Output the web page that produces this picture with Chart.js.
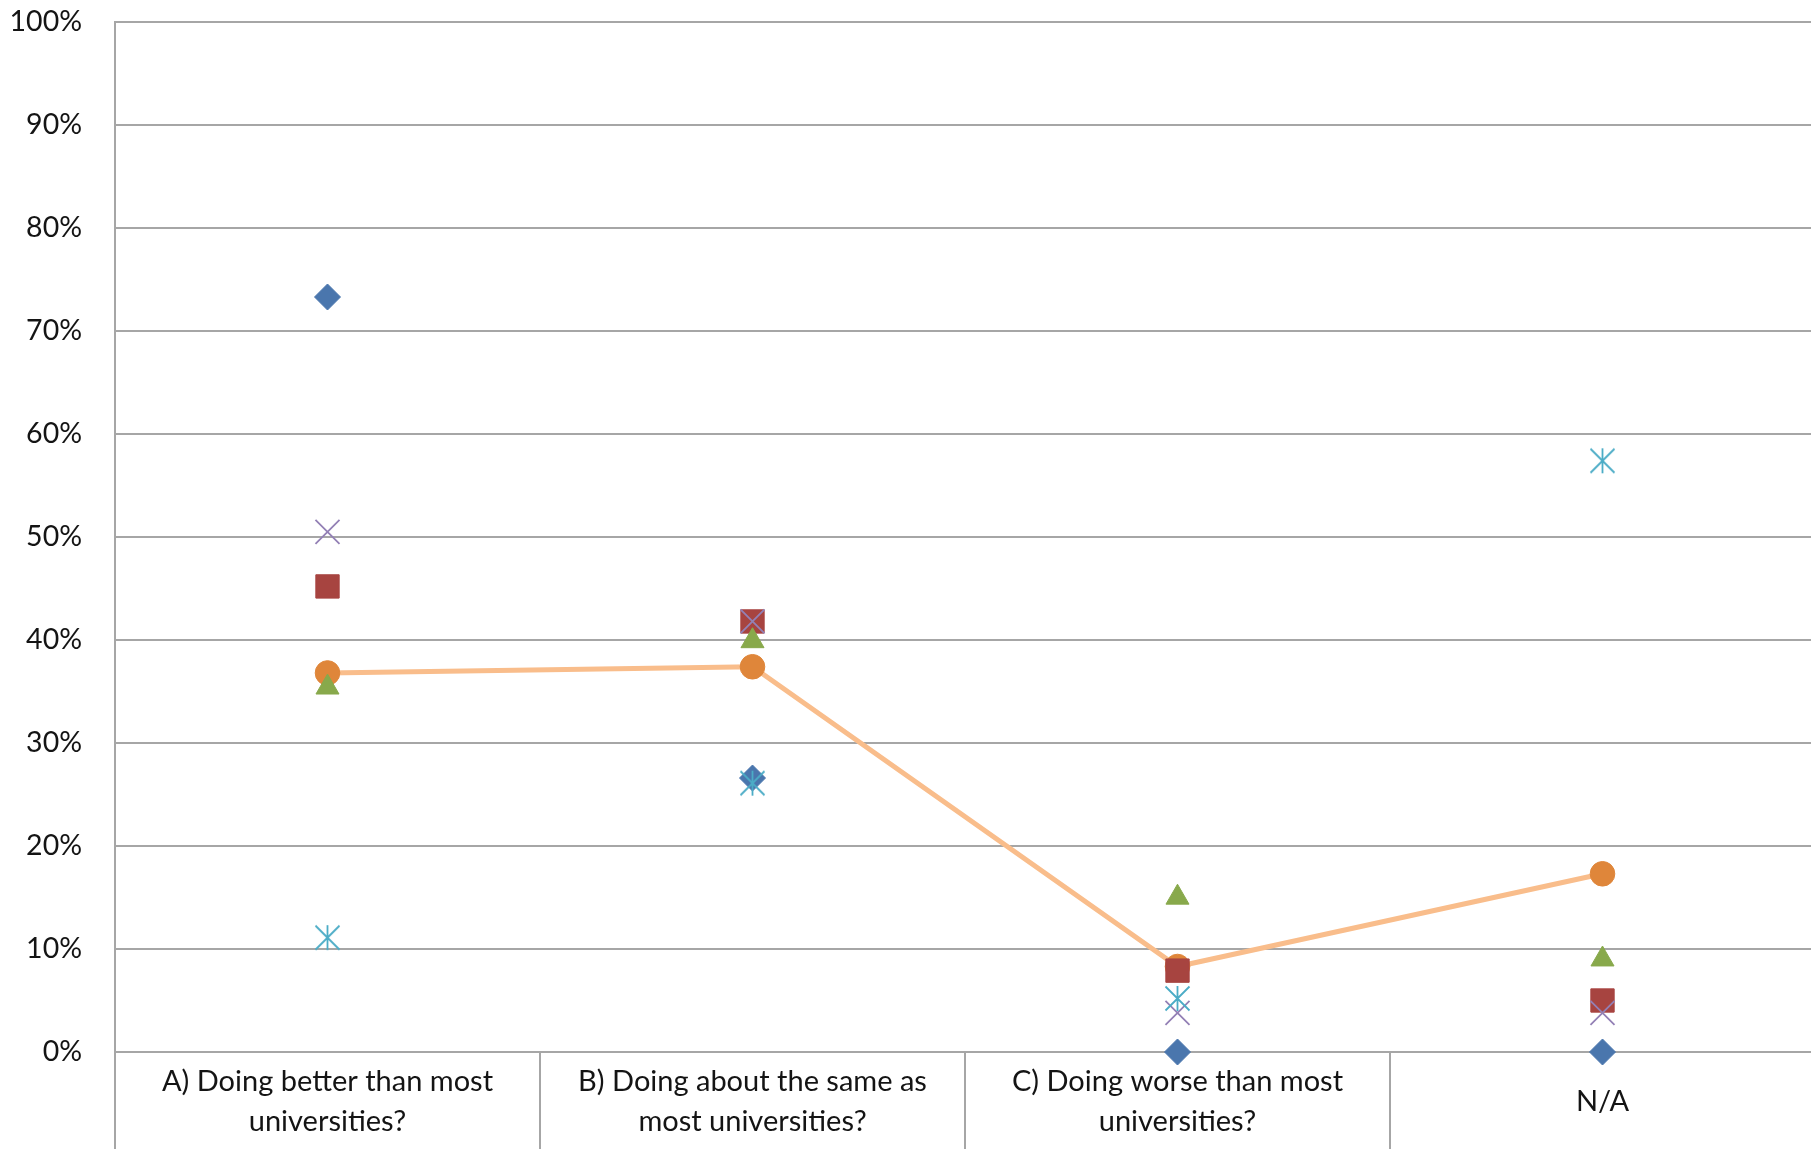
<!DOCTYPE html>
<html>
<head>
    <meta charset="UTF-8">
    <title>University comparison</title>
    <script src="https://cdn.jsdelivr.net/npm/chart.js"></script>
    <style>
        html, body {
            margin: 0;
            padding: 0;
            background: #fff;
            overflow: hidden;
        }
        #wrap {
            width: 1815px;
            height: 1149px;
        }
    </style>
</head>
<body>
    <div id="wrap"><canvas id="chart"></canvas></div>
    <script>
        // categories (x axis)
        const categories = [
            ["A) Doing better than most", "universities?"],
            ["B) Doing about the same as", "most universities?"],
            ["C) Doing worse than most", "universities?"],
            "N/A"
        ];

        // y axis ticks, in percent
        const yTicks = [0, 10, 20, 30, 40, 50, 60, 70, 80, 90, 100];

        // series values, in percent
        const blueDiamond = [73.3, 26.6, 0, 0];
        const redSquare = [45.2, 41.8, 7.9, 5.0];
        const greenTriangle = [35.4, 39.9, 15.0, 9.0];
        const purpleCross = [50.5, 41.8, 3.8, 3.8];
        const cyanStar = [11.1, 26.1, 5.2, 57.4];
        const orangeCircle = [36.8, 37.4, 8.3, 17.3];

        const GRID = '#a6a6a6';
        const TEXT = '#141414';
        const FONT = 'Lato, "Open Sans", sans-serif';

        // excel-like asterisk marker (X plus a vertical bar)
        function starMarker(color) {
            const c = document.createElement('canvas');
            c.width = 27;
            c.height = 27;
            const g = c.getContext('2d');
            g.strokeStyle = color;
            g.lineWidth = 1.8;
            g.beginPath();
            g.moveTo(13.5, 1); g.lineTo(13.5, 26);
            g.moveTo(1.5, 1.5); g.lineTo(25.5, 25.5);
            g.moveTo(25.5, 1.5); g.lineTo(1.5, 25.5);
            g.stroke();
            return c;
        }

        function markers(label, data, style, color, radius, order, extra) {
            return Object.assign({
                label,
                data,
                showLine: false,
                clip: false,
                pointStyle: style,
                pointRadius: radius,
                pointHoverRadius: radius,
                pointBackgroundColor: color,
                pointBorderColor: color,
                pointBorderWidth: 1,
                backgroundColor: color,
                borderColor: color,
                order
            }, extra || {});
        }

        const datasets = [
            markers('Series 1', blueDiamond, 'rectRot', '#4a76ad', 13, 5),
            markers('Series 2', redSquare, 'rect', '#a74440', 16.5, 4),
            markers('Series 3', greenTriangle, 'triangle', '#88a94b', 13.3, 3),
            markers('Series 4', purpleCross, 'crossRot', '#9380b5', 17, 2, { pointBorderWidth: 1.8 }),
            markers('Series 5', cyanStar, starMarker('#4bacc6'), '#4bacc6', 13, 1),
            {
                label: 'Series 6',
                data: orangeCircle,
                showLine: true,
                clip: false,
                borderColor: '#f9bd8b',
                borderWidth: 5,
                tension: 0,
                pointStyle: 'circle',
                pointRadius: 12.3,
                pointHoverRadius: 12.3,
                pointBackgroundColor: '#df863a',
                pointBorderColor: '#df863a',
                pointBorderWidth: 1,
                order: 6
            }
        ];

        new Chart(document.getElementById('chart'), {
            type: 'line',
            data: { labels: categories, datasets },
            options: {
                responsive: true,
                maintainAspectRatio: false,
                animation: false,
                layout: {
                    autoPadding: false,
                    padding: { top: 22, right: 0, bottom: 0, left: 0 }
                },
                plugins: {
                    legend: { display: false },
                    tooltip: { enabled: false }
                },
                scales: {
                    x: {
                        type: 'category',
                        offset: true,
                        grid: {
                            offset: true,
                            drawOnChartArea: false,
                            drawTicks: true,
                            tickLength: 100,
                            color: GRID,
                            lineWidth: 2
                        },
                        border: { display: true, color: GRID, width: 2 },
                        ticks: {
                            color: TEXT,
                            font: { family: FONT, size: 29, lineHeight: 1.36 },
                            maxRotation: 0,
                            autoSkip: false,
                            crossAlign: 'center',
                            padding: -70
                        },
                        afterFit: (scale) => {
                            scale.height = 97;
                            scale.paddingLeft = 0;
                            scale.paddingRight = 0;
                        }
                    },
                    y: {
                        min: 0,
                        max: 100,
                        afterBuildTicks: (scale) => {
                            scale.ticks = yTicks.map(v => ({ value: v }));
                        },
                        grid: {
                            color: GRID,
                            lineWidth: 2,
                            drawTicks: false
                        },
                        border: { display: true, color: GRID, width: 2 },
                        ticks: {
                            color: TEXT,
                            font: { family: FONT, size: 28.5 },
                            padding: 33,
                            callback: (v) => v + '%'
                        },
                        afterFit: (scale) => {
                            scale.width = 115;
                            scale.paddingTop = 0;
                            scale.paddingBottom = 0;
                        }
                    }
                }
            }
        });
    </script>
</body>
</html>
